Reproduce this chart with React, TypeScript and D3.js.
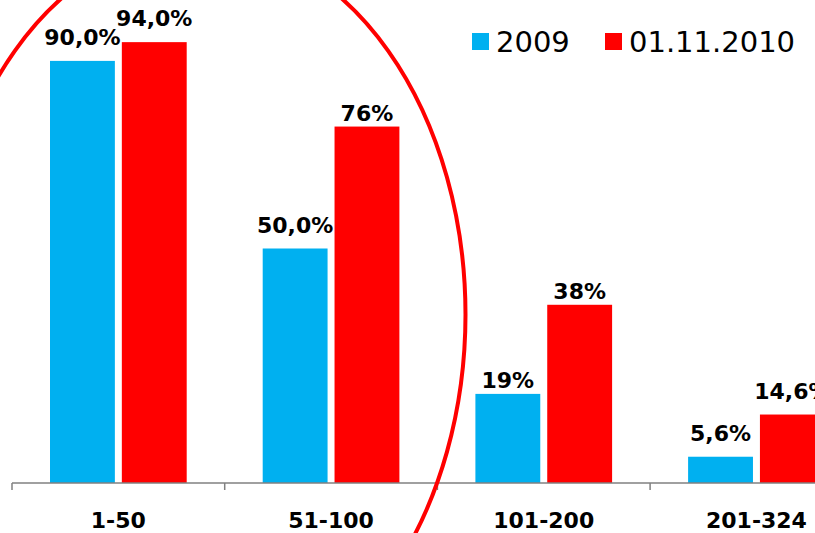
import React, { useEffect, useRef } from "react"
import * as d3 from "d3"

const categories = ["1-50", "51-100", "101-200", "201-324"]
const seriesNames = ["2009", "01.11.2010"]
const values2009 = [90, 50, 19, 5.6]
const values2010 = [94, 76, 38, 14.6]
const labels2009 = ["90,0%", "50,0%", "19%", "5,6%"]
const labels2010 = ["94,0%", "76%", "38%", "14,6%"]
const colors = ["#00B0F0", "#FF0000"]

export default function App() {
  const svgRef = useRef<SVGSVGElement>(null)

  useEffect(() => {
    if (!svgRef.current) return
    const svg = d3.select(svgRef.current)
    svg.selectAll("*").remove()

    const axisY = 483
    const bandW = 212.7

    const x0 = d3
      .scaleBand()
      .domain(categories)
      .range([12, 12 + bandW * categories.length])
      .padding(0)

    const x1 = d3
      .scaleBand()
      .domain(seriesNames)
      .range([38, bandW - 38])
      .paddingInner(0.097)
      .paddingOuter(0)

    const y = d3.scaleLinear().domain([0, 100]).range([axisY, 14])

    const rows = categories.map((c, i) => ({
      category: c,
      items: [
        { series: seriesNames[0], value: values2009[i], label: labels2009[i], color: colors[0] },
        { series: seriesNames[1], value: values2010[i], label: labels2010[i], color: colors[1] },
      ],
    }))

    const groups = svg
      .selectAll(".group")
      .data(rows)
      .enter()
      .append("g")
      .attr("class", "group")
      .attr("transform", d => `translate(${x0(d.category)},0)`)

    groups
      .selectAll("rect")
      .data(d => d.items)
      .enter()
      .append("rect")
      .attr("x", d => x1(d.series) || 0)
      .attr("y", d => y(d.value))
      .attr("width", x1.bandwidth())
      .attr("height", d => axisY - y(d.value))
      .attr("fill", d => d.color)

    groups
      .selectAll("text.val")
      .data(d => d.items)
      .enter()
      .append("text")
      .attr("class", "val")
      .attr("x", d => (x1(d.series) || 0) + x1.bandwidth() / 2)
      .attr("y", d => y(d.value) - (d.label.includes(",") ? 16 : 6))
      .attr("text-anchor", "middle")
      .attr("font-family", "DejaVu Sans")
      .attr("font-weight", "bold")
      .attr("font-size", "22px")
      .attr("fill", "#000")
      .text(d => d.label)

    // x axis
    const axis = svg.append("g")
    axis
      .append("line")
      .attr("x1", 12)
      .attr("x2", 815)
      .attr("y1", axisY)
      .attr("y2", axisY)
      .attr("stroke", "#808080")
      .attr("stroke-width", 1.5)
    axis
      .selectAll(".tick")
      .data(categories)
      .enter()
      .append("line")
      .attr("x1", d => (x0(d) || 0))
      .attr("x2", d => (x0(d) || 0))
      .attr("y1", axisY)
      .attr("y2", axisY + 7)
      .attr("stroke", "#808080")
      .attr("stroke-width", 1.5)
    axis
      .selectAll(".cat")
      .data(categories)
      .enter()
      .append("text")
      .attr("x", d => (x0(d) || 0) + x0.bandwidth() / 2)
      .attr("y", 528)
      .attr("text-anchor", "middle")
      .attr("font-family", "DejaVu Sans")
      .attr("font-weight", "bold")
      .attr("font-size", "22px")
      .attr("fill", "#000")
      .text(d => d)

    // annotation ellipse
    svg
      .append("ellipse")
      .attr("cx", 201.5)
      .attr("cy", 314.6)
      .attr("rx", 264)
      .attr("ry", 373)
      .attr("fill", "none")
      .attr("stroke", "#FF0000")
      .attr("stroke-width", 4)

    // legend
    const legendX = [472, 605]
    const legend = svg
      .selectAll(".legend")
      .data(seriesNames)
      .enter()
      .append("g")
      .attr("transform", (_, i) => `translate(${legendX[i]},33)`)
    legend
      .append("rect")
      .attr("width", 17)
      .attr("height", 17)
      .attr("fill", (_, i) => colors[i])
    legend
      .append("text")
      .attr("x", 24)
      .attr("y", 19)
      .attr("font-family", "DejaVu Sans")
      .attr("font-size", "29px")
      .attr("fill", "#000")
      .text(d => d)
  }, [])

  return (
    <svg
      ref={svgRef}
      width={815}
      height={533}
      style={{ position: "fixed", left: 0, top: 0, background: "#fff" }}
    />
  )
}
